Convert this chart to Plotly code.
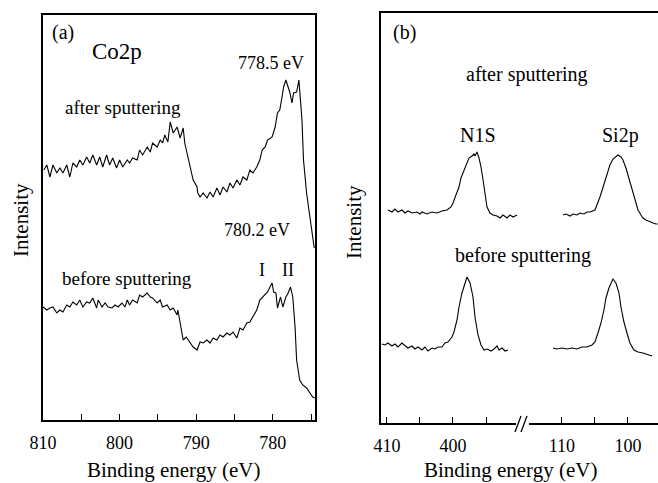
import plotly.graph_objects as go

# ---------------- Panel (a): Co2p ----------------
after_a_E = [809.9, 809.5, 809.1, 808.7, 808.2, 807.8, 807.4, 806.9, 806.5, 806.1,
             805.6, 805.2, 804.8, 804.3, 803.9, 803.5, 803.0, 802.6, 802.2, 801.7,
             801.3, 800.9, 800.4, 800.0, 799.6, 799.0, 798.7, 798.3, 797.7, 797.4,
             797.0, 796.4, 796.0, 795.7, 795.1, 794.7, 794.4, 794.1, 793.7, 793.4,
             793.0, 792.5, 792.1, 791.7, 791.5, 791.1, 790.8, 790.4, 789.9, 789.8,
             789.5, 789.1, 788.6, 788.2, 787.8, 787.3, 786.9, 786.5, 786.0, 785.6,
             785.2, 784.7, 784.3, 783.9, 783.4, 783.0, 782.6, 782.1, 781.7, 781.4,
             781.0, 780.7, 780.1, 779.7, 779.4, 779.1, 778.8, 778.6, 778.3, 778.0,
             777.8, 777.5, 777.3, 776.9, 776.6, 776.2, 776.0, 775.6, 775.3, 774.8,
             774.6]
after_a_I = [250, 255, 243, 255, 247, 252, 247, 255, 243, 257,
             253, 260, 255, 263, 257, 265, 255, 263, 253, 265,
             255, 262, 252, 260, 253, 260, 257, 262, 260, 270,
             265, 273, 268, 277, 273, 280, 277, 285, 278, 298,
             287, 293, 282, 292, 277, 263, 253, 240, 233, 227,
             223, 227, 222, 228, 223, 232, 225, 233, 228, 237,
             232, 240, 235, 243, 240, 250, 247, 253, 260, 270,
             273, 280, 283, 293, 307, 310, 323, 333, 340, 333,
             328, 317, 327, 328, 340, 300, 260, 227, 210, 180,
             172]

before_a_E = [810.0, 809.5, 809.1, 808.7, 808.2, 807.8, 807.4, 806.9, 806.5, 806.1,
              805.6, 805.2, 804.8, 804.3, 803.9, 803.5, 803.0, 802.8, 802.3, 801.9,
              801.5, 801.0, 800.6, 800.2, 799.7, 799.3, 799.0, 798.7, 798.3, 797.7,
              797.4, 797.0, 796.4, 796.0, 795.7, 795.1, 794.7, 794.4, 793.8, 793.4,
              793.0, 792.5, 792.4, 792.1, 791.9, 791.7, 791.3, 790.8, 790.4, 789.9,
              789.5, 789.1, 788.6, 788.2, 787.8, 787.3, 786.9, 786.5, 786.0, 785.6,
              785.2, 784.7, 784.3, 783.9, 783.4, 783.0, 782.6, 782.1, 781.7, 781.3,
              780.9, 780.7, 780.1, 779.9, 779.6, 779.4, 779.0, 778.7, 778.3, 778.0,
              777.7, 777.4, 777.1, 776.9, 776.5, 776.1, 775.6, 775.2, 774.8, 774.5]
before_a_I = [113, 110, 112, 113, 107, 110, 108, 115, 113, 118,
              115, 120, 113, 118, 117, 122, 112, 120, 113, 117,
              113, 112, 115, 113, 117, 113, 120, 115, 120, 117,
              125, 123, 127, 123, 122, 117, 120, 113, 115, 110,
              112, 105, 110, 98, 90, 80, 83, 77, 73, 70,
              78, 77, 80, 77, 82, 80, 85, 83, 87, 85,
              88, 82, 92, 90, 97, 98, 103, 110, 120, 123,
              127, 128, 137, 128, 127, 112, 123, 113, 123, 127,
              133, 123, 93, 60, 40, 35, 32, 27, 23, 22]

a_tick_vals = [810, 805, 800, 795, 790, 785, 780, 775]
a_tick_text = ["810", "", "800", "", "790", "", "780", ""]

# ---------------- Panel (b): N1S and Si2p ----------------
after_n1s_E = [409.85, 409.24, 408.79, 408.33, 407.73, 407.27, 406.82, 406.21, 405.45, 405.00,
               404.70, 403.94, 403.18, 402.42, 401.67, 400.91, 400.30, 400.00, 399.55, 399.09,
               398.79, 398.33, 397.88, 397.58, 397.12, 396.82, 396.67, 396.36, 396.06, 395.76,
               395.45, 395.15, 394.85, 394.39, 393.94, 393.33, 392.88, 392.42, 391.82, 391.36,
               390.91, 390.30]
after_n1s_I = [211, 209, 212, 209, 211, 208, 210, 208, 209, 207,
               209, 207, 209, 208, 210, 211, 214, 218, 226, 234,
               243, 251, 258, 263, 265, 267, 265, 269, 263, 254,
               241, 225, 214, 208, 206, 205, 203, 206, 203, 206,
               204, 206]

after_si2p_E = [109.85, 109.39, 108.79, 108.33, 107.73, 107.27, 106.67, 106.21, 105.76, 105.30,
                105.00, 104.24, 103.79, 103.18, 102.73, 102.27, 101.82, 101.52, 101.06, 100.76,
                100.30, 100.00, 99.55, 99.24, 98.79, 98.48, 98.03, 97.73, 97.27, 96.97,
                96.52, 96.21, 95.76, 95.50]
after_si2p_I = [206, 207, 205, 207, 206, 208, 207, 209, 209, 210,
                211, 224, 234, 246, 256, 262, 265, 266, 264, 261,
                253, 246, 235, 226, 217, 211, 206, 203, 201, 200,
                199, 198, 197, 197]

before_n1s_E = [410.76, 410.30, 409.85, 409.24, 408.79, 408.33, 407.73, 407.27, 406.82, 406.21,
                405.76, 405.30, 404.70, 404.24, 403.79, 403.18, 402.73, 402.27, 401.67, 401.21,
                400.76, 400.15, 399.85, 399.39, 399.09, 398.64, 398.18, 397.88, 397.42, 396.97,
                396.67, 396.21, 395.76, 395.30, 394.85, 394.24, 393.79, 393.33, 393.03, 392.58,
                392.12, 391.67]
before_n1s_I = [77, 76, 78, 75, 77, 74, 78, 75, 73, 75,
                72, 74, 71, 74, 70, 73, 72, 74, 74, 78,
                79, 84, 89, 101, 114, 128, 138, 144, 138, 124,
                104, 86, 76, 71, 72, 70, 72, 75, 71, 73,
                70, 71]

before_si2p_E = [111.36, 110.76, 110.00, 109.24, 108.48, 107.73, 106.97, 106.21, 105.45, 105.00,
                 104.55, 104.09, 103.64, 103.33, 102.88, 102.42, 102.27, 101.82, 101.36, 101.06,
                 100.61, 100.15, 99.70, 99.09, 98.48, 97.73, 96.97, 96.36]
before_si2p_I = [73, 72, 73, 72, 73, 72, 74, 74, 76, 79,
                 88, 98, 111, 123, 133, 139, 142, 138, 128, 114,
                 99, 88, 78, 71, 69, 68, 66, 65]

b_left_tick_vals = [410, 405, 400, 395]
b_left_tick_text = ["410", "", "400", ""]
b_right_tick_vals = [110, 105, 100]
b_right_tick_text = ["110", "", "100"]

# ---------------- Figure ----------------
W, H = 658, 483
FONT = "Liberation Serif, Times New Roman, serif"
line = dict(color="black", width=1.1)

fig = go.Figure()
fig.add_trace(go.Scatter(x=after_a_E, y=after_a_I, mode="lines", line=line, xaxis="x", yaxis="y"))
fig.add_trace(go.Scatter(x=before_a_E, y=before_a_I, mode="lines", line=line, xaxis="x", yaxis="y"))
fig.add_trace(go.Scatter(x=after_n1s_E, y=after_n1s_I, mode="lines", line=line, xaxis="x2", yaxis="y2"))
fig.add_trace(go.Scatter(x=before_n1s_E, y=before_n1s_I, mode="lines", line=line, xaxis="x2", yaxis="y2"))
fig.add_trace(go.Scatter(x=after_si2p_E, y=after_si2p_I, mode="lines", line=line, xaxis="x3", yaxis="y2"))
fig.add_trace(go.Scatter(x=before_si2p_E, y=before_si2p_I, mode="lines", line=line, xaxis="x3", yaxis="y2"))


def px(x):
    return x / W


def py(y):
    return 1 - y / H


xcommon = dict(showline=True, linecolor="black", linewidth=1.6, mirror=True,
               ticks="inside", ticklen=6, tickwidth=1.3, tickcolor="black",
               showgrid=False, zeroline=False, ticklabelstandoff=6, automargin=False,
               tickfont=dict(family=FONT, size=18, color="black"))
ycommon = dict(showline=True, linecolor="black", linewidth=1.6, automargin=False,
               showgrid=False, zeroline=False, showticklabels=False, ticks="")

fig.update_layout(
    width=W, height=H, autosize=False,
    margin=dict(l=0, r=0, t=0, b=0, pad=0, autoexpand=False),
    paper_bgcolor="white", plot_bgcolor="white",
    showlegend=False,
    font=dict(family=FONT, color="black"),
    xaxis=dict(domain=[px(43), px(315)], range=[810, 774.5], anchor="y",
               tickmode="array", tickvals=a_tick_vals, ticktext=a_tick_text, **xcommon),
    yaxis=dict(domain=[py(420), py(15)], range=[0, 405], anchor="x", mirror=True, **ycommon),
    xaxis2=dict(domain=[px(381), px(523)], range=[410.9, 389.4], anchor="y2",
                tickmode="array", tickvals=b_left_tick_vals, ticktext=b_left_tick_text, **xcommon),
    xaxis3=dict(domain=[px(523), 1.0], range=[115.9, 95.45], anchor="y2",
                tickmode="array", tickvals=b_right_tick_vals, ticktext=b_right_tick_text, **xcommon),
    yaxis2=dict(domain=[py(423), py(13)], range=[-2, 408], anchor="x2", mirror=False, **ycommon),
)

# axis break marks on panel (b)
fig.add_shape(type="rect", xref="paper", yref="paper",
              x0=px(516), x1=px(529), y0=py(426), y1=py(420),
              fillcolor="white", line=dict(width=0))
fig.add_shape(type="line", xref="paper", yref="paper",
              x0=px(515), y0=py(432), x1=px(521), y1=py(416), line=dict(color="black", width=1.3))
fig.add_shape(type="line", xref="paper", yref="paper",
              x0=px(521), y0=py(432), x1=px(527), y1=py(416), line=dict(color="black", width=1.3))


def note(text, x, y, xref, yref, size=19, angle=0):
    fig.add_annotation(text=text, x=x, y=y, xref=xref, yref=yref, showarrow=False,
                       textangle=angle,
                       font=dict(family=FONT, size=size, color="black"),
                       xanchor="center", yanchor="middle")


# panel (a) labels
note("(a)", 807.4, 387, "x", "y", 20)
note("Co2p", 800.3, 368, "x", "y", 23)
note("778.5 eV", 780.3, 357, "x", "y", 18)
note("after sputtering", 799.6, 312, "x", "y", 19)
note("780.2 eV", 782.1, 190, "x", "y", 18)
note("before sputtering", 799.0, 142, "x", "y", 19)
note("I", 781.4, 150, "x", "y", 18)
note("II", 778.0, 150, "x", "y", 18)

# panel (b) labels
note("(b)", 407.3, 388, "x2", "y2", 20)
note("after sputtering", px(527), 346, "paper", "y2", 20)
note("N1S", 396.2, 286, "x2", "y2", 20)
note("Si2p", 101.2, 286, "x3", "y2", 20)
note("before sputtering", px(523), 166, "paper", "y2", 20)

# axis titles
note("Binding energy (eV)", px(173), py(470), "paper", "paper", 21)
note("Binding energy (eV)", px(510), py(470), "paper", "paper", 21)
note("Intensity", px(21), py(220), "paper", "paper", 21, -90)
note("Intensity", px(354), py(222), "paper", "paper", 21, -90)

fig.write_html("out.html", config={"displayModeBar": False},
               post_script="document.body.style.margin='0';")
